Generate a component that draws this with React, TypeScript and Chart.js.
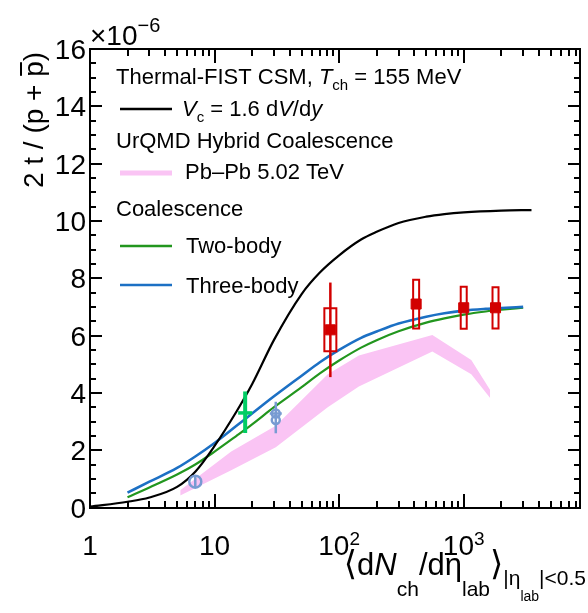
import React, { useEffect, useRef } from "react";
import { Chart, registerables } from "chart.js";
Chart.register(...registerables);

// ---------- data (y in units of 1e-6) ----------
const csmX = [1, 2, 3, 5, 7, 10, 15, 20, 30, 50, 70, 100, 150, 200, 300, 500, 700, 1000, 2000, 3500];
const csmY = [0.03, 0.2, 0.35, 0.72, 1.25, 2.15, 3.35, 4.3, 5.85, 7.45, 8.2, 8.8, 9.35, 9.62, 9.93, 10.15, 10.24, 10.3, 10.36, 10.38];

const coalX = [2, 3, 5, 7, 10, 15, 20, 30, 50, 70, 100, 150, 200, 300, 500, 700, 1000, 1500, 2000, 3000];
const twoBodyY = [0.36, 0.7, 1.15, 1.5, 1.95, 2.5, 2.9, 3.5, 4.2, 4.68, 5.13, 5.58, 5.84, 6.15, 6.45, 6.6, 6.73, 6.84, 6.9, 6.97];
const threeBodyY = [0.52, 0.9, 1.38, 1.78, 2.25, 2.85, 3.28, 3.88, 4.6, 5.07, 5.5, 5.92, 6.14, 6.42, 6.66, 6.78, 6.87, 6.93, 6.96, 7.0];

const bandX = [5.3, 13.6, 31, 81, 144, 560, 1150, 1630];
const bandLo = [0.42, 1.3, 2.1, 3.5, 4.22, 5.44, 4.65, 3.82];
const bandHi = [0.6, 1.95, 2.85, 4.65, 5.3, 6.02, 5.15, 4.1];

const pbX = [85, 415, 1000, 1800];
const pbY = [6.2, 7.1, 6.97, 6.97];
const pbStat = [1.65, 0.15, 0.12, 0.12];
const pbSys = [0.75, 0.85, 0.73, 0.72];

const pPbX = [17.6];
const pPbY = [3.3];
const pPbErrLo = [2.6];
const pPbErrHi = [4.05];

const ppLowX = [7.0];
const ppLowY = [0.9];
const ppHighX = [31, 31];
const ppHighY = [3.28, 3.05];
const ppErrX = [7.0, 31];
const ppErrLo = [0.7, 2.59];
const ppErrHi = [1.1, 3.69];

const yTicks = [0, 2, 4, 6, 8, 10, 12, 14, 16];
const yTickLabels = ["0", "2", "4", "6", "8", "10", "12", "14", "16"];
const xTicks = [1, 10, 100, 1000];
const xTickBase = ["1", "10", "10", "10"];
const xTickExp = ["", "", "2", "3"];

// ---------- styles ----------
const FAM = '"Liberation Sans", "DejaVu Sans", sans-serif';
const PINK = "rgb(250,196,244)";
const GREEN = "rgb(34,150,30)";
const BLUE = "rgb(28,112,196)";
const RED = "rgb(210,0,0)";
const PPB = "rgb(0,205,100)";
const PP = "rgb(120,155,210)";
const boxHalfPx = [6, 3, 3, 3];

type Seg = { t: string; s: number; i?: boolean; dy?: number };
const fnt = (g: Seg) => `${g.i ? "italic " : ""}${g.s}px ${FAM}`;
function segsWidth(ctx: CanvasRenderingContext2D, segs: Seg[]) {
  let w = 0;
  for (const g of segs) {
    ctx.font = fnt(g);
    w += ctx.measureText(g.t).width;
  }
  return w;
}
function drawSegs(ctx: CanvasRenderingContext2D, segs: Seg[], x: number, y: number) {
  for (const g of segs) {
    ctx.font = fnt(g);
    ctx.fillText(g.t, x, y + (g.dy || 0));
    x += ctx.measureText(g.t).width;
  }
  return x;
}

// frame + inward ticks as DOM elements placed with the chart's own scales
function buildFrame(host: HTMLDivElement, chart: any) {
  host.innerHTML = "";
  const a = chart.chartArea;
  const x = chart.scales.x, y = chart.scales.y;
  const add = (l: number, t: number, w: number, h: number) => {
    const d = document.createElement("div");
    d.style.position = "absolute";
    d.style.left = `${l}px`;
    d.style.top = `${t}px`;
    d.style.width = `${w}px`;
    d.style.height = `${h}px`;
    d.style.background = "#000";
    host.appendChild(d);
  };
  const L0 = a.left, R0 = a.right, T0 = a.top, B0 = a.bottom;
  add(L0 - 1, T0 - 1, R0 - L0 + 2, 2);
  add(L0 - 1, B0 - 1, R0 - L0 + 2, 2);
  add(L0 - 1, T0 - 1, 2, B0 - T0 + 2);
  add(R0 - 1, T0 - 1, 2, B0 - T0 + 2);
  for (let k = 0; k <= 32; k++) {
    const py = y.getPixelForValue(k * 0.5);
    const Lt = k % 4 === 0 ? 12 : 6;
    add(L0, py - 1, Lt, 2);
    add(R0 - Lt, py - 1, Lt, 2);
  }
  for (let d = 1; d <= 1000; d *= 10) {
    for (let m = 1; m <= 9; m++) {
      const v = d * m;
      if (v > x.max) continue;
      const px = x.getPixelForValue(v);
      const Lt = m === 1 ? 14 : 7;
      add(px - 1, B0 - Lt, 2, Lt);
      add(px - 1, T0, 2, Lt);
    }
  }
}

const decor = {
  id: "decor",
  afterDatasetsDraw(chart: any) {
    const { ctx, scales } = chart;
    const x = scales.x, y = scales.y;
    ctx.save();
    ctx.lineCap = "butt";
    // p-Pb: thick vertical error bar + horizontal bar
    ctx.strokeStyle = PPB;
    pPbX.forEach((v, i) => {
      const px = x.getPixelForValue(v);
      const py = y.getPixelForValue(pPbY[i]);
      ctx.lineWidth = 4;
      ctx.beginPath();
      ctx.moveTo(px, y.getPixelForValue(pPbErrLo[i]));
      ctx.lineTo(px, y.getPixelForValue(pPbErrHi[i]));
      ctx.stroke();
      ctx.lineWidth = 3.5;
      ctx.beginPath();
      ctx.moveTo(px - 7, py);
      ctx.lineTo(px + 7, py);
      ctx.stroke();
    });
    // pp error bars
    ctx.strokeStyle = PP;
    ctx.lineWidth = 2.5;
    ppErrX.forEach((v, i) => {
      const px = x.getPixelForValue(v);
      ctx.beginPath();
      ctx.moveTo(px, y.getPixelForValue(ppErrLo[i]));
      ctx.lineTo(px, y.getPixelForValue(ppErrHi[i]));
      ctx.stroke();
    });
    {
      const px = x.getPixelForValue(ppHighX[0]);
      const py = y.getPixelForValue(ppHighY[0]);
      ctx.beginPath();
      ctx.moveTo(px - 6, py);
      ctx.lineTo(px + 6, py);
      ctx.stroke();
    }
    // Pb-Pb stat + sys
    ctx.strokeStyle = RED;
    pbX.forEach((v, i) => {
      const px = x.getPixelForValue(v);
      ctx.lineWidth = 2.5;
      ctx.beginPath();
      ctx.moveTo(px, y.getPixelForValue(pbY[i] - pbStat[i]));
      ctx.lineTo(px, y.getPixelForValue(pbY[i] + pbStat[i]));
      ctx.stroke();
      ctx.lineWidth = 2;
      const t = y.getPixelForValue(pbY[i] + pbSys[i]);
      const b = y.getPixelForValue(pbY[i] - pbSys[i]);
      ctx.beginPath();
      ctx.rect(px - boxHalfPx[i], t, boxHalfPx[i] * 2, b - t);
      ctx.stroke();
    });
    ctx.restore();
  },
  afterDraw(chart: any) {
    const { ctx, scales, chartArea } = chart;
    const x = scales.x, y = scales.y;
    const L0 = chartArea.left;
    ctx.save();
    ctx.fillStyle = "#000";
    ctx.textAlign = "right";
    ctx.textBaseline = "alphabetic";
    ctx.font = `28px ${FAM}`;
    yTicks.forEach((v, i) => {
      ctx.fillText(yTickLabels[i], L0 - 4, y.getPixelForValue(v) + 10);
    });
    ctx.textAlign = "left";
    xTicks.forEach((v, i) => {
      const segs: Seg[] = [{ t: xTickBase[i], s: 28 }];
      if (xTickExp[i]) segs.push({ t: xTickExp[i], s: 19, dy: -10 });
      const w = segsWidth(ctx, segs);
      drawSegs(ctx, segs, x.getPixelForValue(v) - w / 2, 555);
    });
    drawSegs(ctx, [{ t: "\u00d710", s: 28 }, { t: "\u22126", s: 20, dy: -13 }], 90, 45);
    const xt: Seg[] = [
      { t: "\u27e8", s: 34 },
      { t: "d", s: 31 },
      { t: "N", s: 31, i: true },
      { t: "ch", s: 21, dy: 21 },
      { t: "/d\u03b7", s: 31 },
      { t: "lab", s: 21, dy: 21 },
      { t: "\u27e9", s: 34 },
      { t: "|\u03b7", s: 21, dy: 10 },
      { t: "lab", s: 14, dy: 26 },
      { t: "|<0.5", s: 21, dy: 10 },
    ];
    const xtw = segsWidth(ctx, xt);
    drawSegs(ctx, xt, 586 - xtw, 575);
    ctx.save();
    ctx.translate(43, 120);
    ctx.rotate(-Math.PI / 2);
    ctx.font = `28px ${FAM}`;
    const s1 = "2 t / (p + ";
    const s2 = "p";
    const s3 = ")";
    const w1 = ctx.measureText(s1).width, w2 = ctx.measureText(s2).width, w3 = ctx.measureText(s3).width;
    const sx = -(w1 + w2 + w3) / 2;
    ctx.fillText(s1, sx, 0);
    ctx.fillText(s2, sx + w1, 0);
    ctx.fillText(s3, sx + w1 + w2, 0);
    ctx.fillRect(sx + w1 + 1, -23, w2 - 2, 2);
    ctx.restore();
    const LS = 22;
    drawSegs(ctx, [
      { t: "Thermal-FIST CSM, ", s: LS },
      { t: "T", s: LS, i: true },
      { t: "ch", s: 15, dy: 6 },
      { t: " = 155 MeV", s: LS },
    ], 116, 84);
    const legLine = (yy: number, col: string, lw: number) => {
      ctx.fillStyle = col;
      ctx.fillRect(120, yy - lw / 2, 52, lw);
      ctx.fillStyle = "#000";
    };
    legLine(109, "#000", 2.5);
    drawSegs(ctx, [
      { t: "V", s: LS, i: true },
      { t: "c", s: 15, dy: 6 },
      { t: " = 1.6 d", s: LS },
      { t: "V", s: LS, i: true },
      { t: "/d", s: LS },
      { t: "y", s: LS, i: true },
    ], 182, 116);
    drawSegs(ctx, [{ t: "UrQMD Hybrid Coalescence", s: LS }], 116, 148);
    legLine(173, PINK, 5);
    drawSegs(ctx, [{ t: "Pb\u2013Pb 5.02 TeV", s: LS }], 185, 179);
    drawSegs(ctx, [{ t: "Coalescence", s: LS }], 116, 216);
    legLine(246, GREEN, 2.5);
    drawSegs(ctx, [{ t: "Two-body", s: LS }], 186, 253);
    legLine(285, BLUE, 2.5);
    drawSegs(ctx, [{ t: "Three-body", s: LS }], 186, 293);
    ctx.restore();
  },
};

const pts = (xs: number[], ys: number[]) => xs.map((v, i) => ({ x: v, y: ys[i] }));

export default function App() {
  const ref = useRef<HTMLCanvasElement>(null);
  const frameRef = useRef<HTMLDivElement>(null);
  useEffect(() => {
    const chart = new Chart(ref.current!, {
      type: "scatter",
      data: {
        datasets: [
          { label: "bandLo", data: pts(bandX, bandLo), showLine: true, borderWidth: 0, borderColor: "rgba(0,0,0,0)", pointRadius: 0, fill: false, order: 10 } as any,
          { label: "Pb-Pb 5.02 TeV", data: pts(bandX, bandHi), showLine: true, borderWidth: 0, borderColor: "rgba(0,0,0,0)", backgroundColor: PINK, pointRadius: 0, fill: "-1", order: 10 } as any,
          { label: "Two-body", data: pts(coalX, twoBodyY), showLine: true, borderColor: GREEN, borderWidth: 2.2, pointRadius: 0, cubicInterpolationMode: "monotone", order: 5 } as any,
          { label: "Three-body", data: pts(coalX, threeBodyY), showLine: true, borderColor: BLUE, borderWidth: 2.6, pointRadius: 0, cubicInterpolationMode: "monotone", order: 4 } as any,
          { label: "CSM", data: pts(csmX, csmY), showLine: true, borderColor: "#000", borderWidth: 2.2, pointRadius: 0, cubicInterpolationMode: "monotone", order: 3 } as any,
          { label: "Pb-Pb data", data: pts(pbX, pbY), pointStyle: "rect", pointRadius: 7.1, backgroundColor: RED, borderColor: RED, borderWidth: 1, order: 1 } as any,
          { label: "pp low", data: pts(ppLowX, ppLowY), pointStyle: "circle", pointRadius: 6, backgroundColor: "rgba(0,0,0,0)", borderColor: PP, borderWidth: 2.5, order: 1 } as any,
          { label: "pp high", data: pts(ppHighX, ppHighY), pointStyle: "circle", pointRadius: 4, backgroundColor: "rgba(0,0,0,0)", borderColor: PP, borderWidth: 2.5, order: 1 } as any,
        ],
      },
      options: {
        animation: false,
        responsive: false,
        devicePixelRatio: 1,
        layout: { padding: { left: 90, right: 4, top: 49, bottom: 105.5 } },
        scales: {
          x: { type: "logarithmic", min: 1, max: 8500, display: false },
          y: { type: "linear", min: 0, max: 16, display: false },
        },
        plugins: { legend: { display: false }, tooltip: { enabled: false } },
        events: [],
      } as any,
      plugins: [decor],
    });
    const host = frameRef.current!;
    buildFrame(host, chart);
    return () => {
      chart.destroy();
      host.innerHTML = "";
    };
  }, []);
  return (
    <div style={{ position: "fixed", left: 0, top: 0, width: 588, height: 613, background: "#fff" }}>
      <canvas ref={ref} width={588} height={613} style={{ display: "block", position: "absolute", left: 0, top: 0 }} />
      <div ref={frameRef} style={{ position: "absolute", left: 0, top: 0, width: 588, height: 613, pointerEvents: "none" }} />
    </div>
  );
}
